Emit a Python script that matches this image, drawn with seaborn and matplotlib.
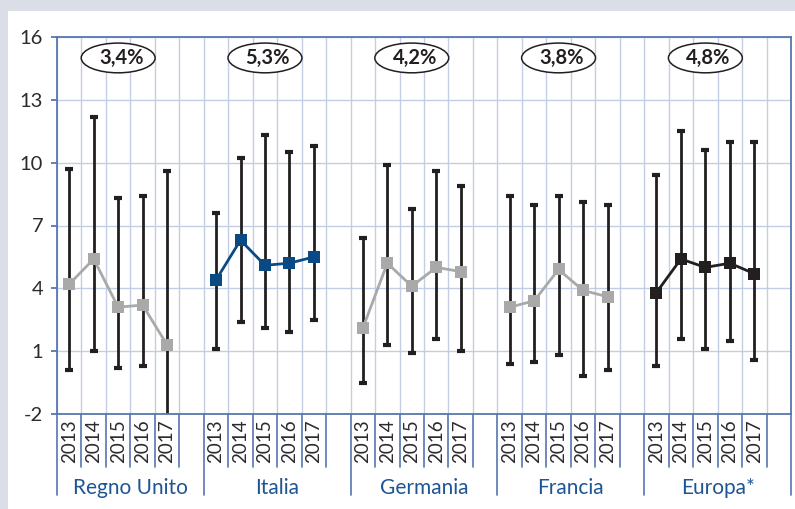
import numpy as np
import pandas as pd
import matplotlib
matplotlib.use("Agg")
import matplotlib.pyplot as plt
from matplotlib.patches import Ellipse, Rectangle
import seaborn as sns

# --- data -------------------------------------------------------------
paesi = ["Regno Unito", "Italia", "Germania", "Francia", "Europa*"]
anni = ["2013", "2014", "2015", "2016", "2017"]
media_periodo = ["3,4%", "5,3%", "4,2%", "3,8%", "4,8%"]

mediana = {
    "Regno Unito": [4.2, 5.4, 3.1, 3.2, 1.3],
    "Italia":      [4.4, 6.3, 5.1, 5.2, 5.5],
    "Germania":    [2.1, 5.2, 4.1, 5.0, 4.8],
    "Francia":     [3.1, 3.4, 4.9, 3.9, 3.6],
    "Europa*":     [3.8, 5.4, 5.0, 5.2, 4.7],
}
minimo = {
    "Regno Unito": [0.1, 1.0, 0.2, 0.3, -3.0],
    "Italia":      [1.1, 2.4, 2.1, 1.9, 2.5],
    "Germania":    [-0.5, 1.3, 0.9, 1.6, 1.0],
    "Francia":     [0.4, 0.5, 0.8, -0.2, 0.1],
    "Europa*":     [0.3, 1.6, 1.1, 1.5, 0.6],
}
massimo = {
    "Regno Unito": [9.7, 12.2, 8.3, 8.4, 9.6],
    "Italia":      [7.6, 10.2, 11.3, 10.5, 10.8],
    "Germania":    [6.4, 9.9, 7.8, 9.6, 8.9],
    "Francia":     [8.4, 8.0, 8.4, 8.1, 8.0],
    "Europa*":     [9.4, 11.5, 10.6, 11.0, 11.0],
}
y_ticks = [-2, 1, 4, 7, 10, 13, 16]

# --- styling ----------------------------------------------------------
colori = {
    "Regno Unito": "#a9a9a9",
    "Italia": "#0a4a84",
    "Germania": "#a9a9a9",
    "Francia": "#a9a9a9",
    "Europa*": "#231f20",
}
AXIS_BLUE = "#5677ae"
GRID_BLUE = "#c3cde3"
LABEL_BLUE = "#1e5593"
TEXT_DARK = "#2b2b2b"
BG_GREY = "#dcdee7"
SLOT = 6  # five years plus one empty column per country

rows = []
for g, p in enumerate(paesi):
    for j, a in enumerate(anni):
        rows.append({
            "paese": p, "anno": a, "x": g * SLOT + j + 0.5,
            "mediana": mediana[p][j], "minimo": minimo[p][j], "massimo": massimo[p][j],
        })
df = pd.DataFrame(rows)

sns.set_theme(style="white")
plt.rcParams["font.family"] = ["Lato", "DejaVu Sans"]

fig = plt.figure(figsize=(7.95, 5.09), dpi=100, facecolor=BG_GREY)
panel = Rectangle((8 / 795, 0), 1, 1 - 11 / 509, transform=fig.transFigure,
                  facecolor="white", edgecolor="none", zorder=-10)
fig.patches.append(panel)
ax = fig.add_axes([57 / 795, 95 / 509, 734 / 795, 377 / 509])
ax.set_zorder(1)
ax.set_facecolor("white")

ncols = SLOT * len(paesi)
ax.set_xlim(0, ncols)
ax.set_ylim(-2, 16)

# grid
for xv in range(ncols + 1):
    ax.axvline(xv, color=GRID_BLUE, lw=1.0, zorder=0.5)
for yv in y_ticks:
    ax.axhline(yv, color=GRID_BLUE, lw=1.0, zorder=0.5)

# min-max ranges
ax.errorbar(df["x"], df["mediana"],
            yerr=[df["mediana"] - df["minimo"], df["massimo"] - df["mediana"]],
            fmt="none", ecolor="#231f20", elinewidth=2.0, capsize=3.0, capthick=3.0,
            zorder=2)

# medians
sns.lineplot(data=df, x="x", y="mediana", hue="paese", palette=colori,
             units="paese", estimator=None, sort=False, marker="s", markersize=8,
             markeredgewidth=0, linewidth=2.0, legend=False, ax=ax, zorder=3)

# period averages in ellipses
for g, testo in enumerate(media_periodo):
    cx = g * SLOT + 2.5
    ax.add_patch(Ellipse((cx, 15.0), 3.02, 1.42, facecolor="white",
                         edgecolor="#231f20", lw=1.1, zorder=4))
    ax.text(cx + 0.12, 15.0, testo, ha="center", va="center", fontsize=14.5,
            fontweight="bold", color="#231f20", zorder=5)

# axes frame and ticks
for s in ax.spines.values():
    s.set_color(AXIS_BLUE)
    s.set_linewidth(1.3)
ax.set_yticks(y_ticks)
ax.set_yticklabels([str(v) for v in y_ticks])
ax.tick_params(axis="y", length=4, width=1.3, color=AXIS_BLUE, pad=6,
               labelsize=14.5, labelcolor=TEXT_DARK, left=True)
ax.set_xticks([])
ax.set_xlabel("")
ax.set_ylabel("")

# category axis below the plot
trans = ax.get_xaxis_transform()
for g, p in enumerate(paesi):
    x0 = g * SLOT
    for j in range(1, len(anni) + 1):
        ax.plot([x0 + j, x0 + j], [0, -0.1406], transform=trans, color=AXIS_BLUE,
                lw=1.2, clip_on=False)
    for j, a in enumerate(anni):
        ax.text(x0 + j + 0.5, -0.073, a, transform=trans, rotation=90,
                ha="center", va="center", fontsize=13.5, color=TEXT_DARK)
    ax.text(x0 + SLOT / 2, -0.196, p, transform=trans, ha="center", va="center",
            fontsize=15, color=LABEL_BLUE)
for g in range(len(paesi) + 1):
    ax.plot([g * SLOT, g * SLOT], [0, -0.2149], transform=trans, color=AXIS_BLUE,
            lw=1.2, clip_on=False)

fig.savefig("out.png", dpi=100, facecolor=BG_GREY)
